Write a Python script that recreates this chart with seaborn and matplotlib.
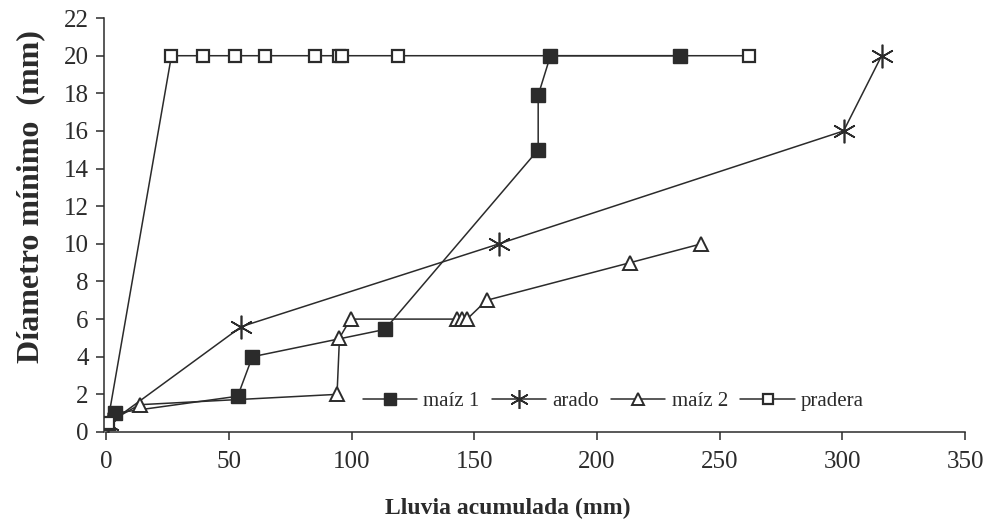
import matplotlib
matplotlib.use("Agg")
import matplotlib.pyplot as plt
import seaborn as sns
import pandas as pd

# lluvia acumulada (mm) vs diametro minimo (mm)
maiz1_x = [3.5, 53.5, 59.5, 113.5, 176, 176, 181, 234]
maiz1_y = [1.0, 1.9, 4.0, 5.45, 15.0, 17.9, 20.0, 20.0]

arado_x = [0.5, 55, 160, 300.5, 316]
arado_y = [0.4, 5.6, 10.0, 16.0, 20.0]

maiz2_x = [0.5, 13.5, 94, 95, 99.5, 143, 145, 147, 155, 213.5, 242.5]
maiz2_y = [0.5, 1.45, 2.0, 5.0, 6.0, 6.0, 6.0, 6.0, 7.0, 9.0, 10.0]

pradera_x = [0.5, 26.5, 39.5, 52.5, 64.5, 85, 95, 96, 119, 262]
pradera_y = [0.5, 20, 20, 20, 20, 20, 20, 20, 20, 20]

INK = "#2b2b2b"

sns.set_theme(style="ticks")
plt.rcParams['font.family'] = ['Liberation Serif', 'DejaVu Serif']

fig = plt.figure(figsize=(9.96, 5.32), dpi=100)
ax = fig.add_axes([0.1044, 0.188, 0.8645, 0.778])

series = [
    ("maíz 1", maiz1_x, maiz1_y, dict(marker='s', ms=10, mfc=INK, mec=INK, mew=1.0)),
    ("arado", arado_x, arado_y, dict(marker=(6, 2, 0), ms=17, mfc=INK, mec=INK, mew=1.2)),
    ("maíz 2", maiz2_x, maiz2_y, dict(marker='^', ms=10.5, mfc='white', mec=INK, mew=1.4)),
    ("pradera", pradera_x, pradera_y, dict(marker='s', ms=8.5, mfc='white', mec=INK, mew=1.6)),
]

for name, xs, ys, mk in series:
    df = pd.DataFrame({'x': xs, 'y': ys})
    sns.lineplot(data=df, x='x', y='y', ax=ax, sort=False, estimator=None,
                 color=INK, lw=1.1, label=name, **mk)

ax.set_xlim(-1, 350)
ax.set_ylim(0, 22)
ax.set_xticks(range(0, 351, 50))
ax.set_yticks(range(0, 23, 2))
ax.tick_params(axis='both', labelsize=18, colors=INK, length=6, width=1.1, direction='out')
ax.tick_params(axis='x', pad=8)
ax.tick_params(axis='y', pad=5)
for s in ['left', 'bottom']:
    ax.spines[s].set_color(INK)
    ax.spines[s].set_linewidth(1.1)
sns.despine(ax=ax)
ax.spines['left'].set_bounds(0, 22)
ax.spines['bottom'].set_bounds(0, 350)

ax.set_xlabel('Lluvia acumulada (mm)', fontsize=17, fontweight='bold', color=INK)
ax.set_ylabel('Díametro mínimo  (mm)', fontsize=23, fontweight='bold', color=INK)
ax.xaxis.set_label_coords(0.469, -0.160)
ax.yaxis.set_label_coords(-0.068, 0.57)

leg = ax.legend(ncol=4, loc='center left', bbox_to_anchor=(0.364, 0.246),
                bbox_transform=fig.transFigure, frameon=False, fontsize=15,
                handlelength=2.6, handletextpad=0.3, columnspacing=0.6,
                borderpad=0, borderaxespad=0, markerscale=0.8)
for t in leg.get_texts():
    t.set_color(INK)

fig.savefig('out.png', dpi=100)
